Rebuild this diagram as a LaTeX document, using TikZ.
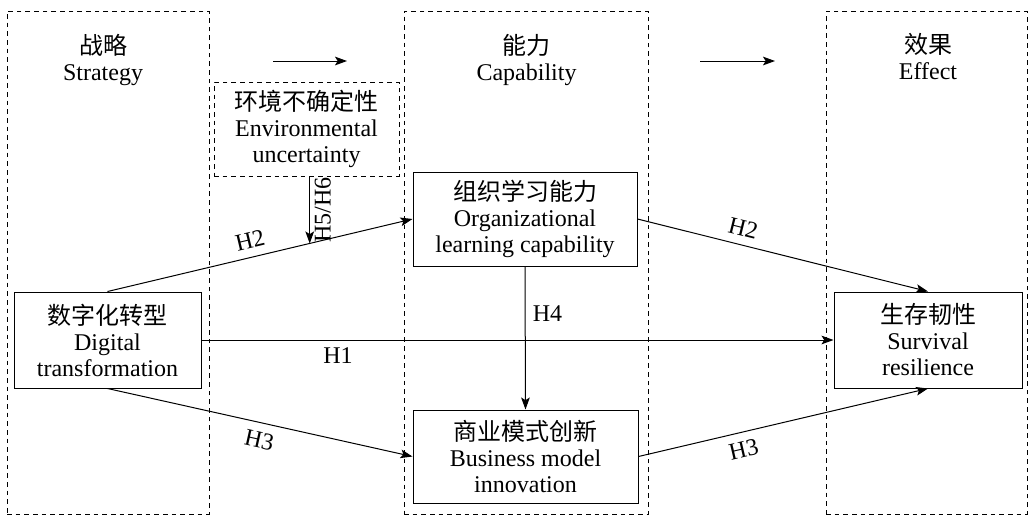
\documentclass[tikz,border=0pt]{standalone}
\usepackage{fontspec}
\setmainfont{Liberation Serif}
\newfontfamily\cjk{Noto Sans CJK SC}
\usetikzlibrary{arrows.meta,calc}

\begin{document}
\begin{tikzpicture}[x=0.75pt,y=-0.75pt,line width=0.75pt,
    >={Stealth[length=9pt,width=6.5pt,inset=2pt]},
    every node/.style={font=\fontsize{18}{19.5}\selectfont,align=center},
    column/.style={draw,dash pattern=on 3.5pt off 3pt,minimum height=377.25pt,inner sep=0pt},
    box/.style={draw,inner sep=0pt}]
  \useasboundingbox (0,0) rectangle (1032,519);
  % three stages
  \node[column,minimum width=151.5pt]  (C1) at (108,262.5)   {};
  \node[column,minimum width=183pt]    (C2) at (526,262.5)   {};
  \node[column,minimum width=150.75pt] (C3) at (926.5,262.5) {};
  \node (T1) at (103,60)   {{\cjk 战略}\\Strategy};
  \node (T2) at (526.5,60) {{\cjk 能力}\\Capability};
  \node (T3) at (928,60)   {{\cjk 效果}\\Effect\strut};
  \coordinate (a1) at (273,61);
  \coordinate (b1) at (347,61);
  \coordinate (a2) at (700,61);
  \coordinate (b2) at (775,61);
  \draw[->] (a1) -- (b1);
  \draw[->] (a2) -- (b2);
  % variables
  \node[box,dash pattern=on 3.5pt off 3pt,minimum width=138.75pt,minimum height=70.5pt] (E) at (306.5,129)
    {{\cjk 环境不确定性}\\Environmental\\uncertainty};
  \node[box,minimum width=168pt,minimum height=70.5pt] (O) at (525,219)
    {{\cjk 组织学习能力}\\Organizational\\learning capability};
  \node[box,minimum width=140.25pt,minimum height=72pt] (D) at (107.5,340)
    {{\cjk 数字化转型}\\Digital\\transformation};
  \node[box,minimum width=168.75pt,minimum height=69.75pt] (B) at (525.5,456.5)
    {{\cjk 商业模式创新}\\Business model\\innovation};
  \node[box,minimum width=141pt,minimum height=72pt] (S) at (928,340)
    {{\cjk 生存韧性}\\Survival\\resilience};
  % hypotheses
  \draw[->] (D.north) -- (O.west) node[pos=0.48,above=3pt,sloped] {H2};
  \draw[->] (O.east) -- (S.north) node[pos=0.35,above=3pt,sloped] {H2};
  \draw[->] (D.east) -- (S.west) node[pos=0.216,below=2pt] {H1};
  \draw[->] (D.south) -- (B.west) node[pos=0.51,below=3pt,sloped] {H3};
  \draw[->] (B.east) -- (S.south) node[pos=0.35,below=3pt,sloped] {H3};
  \draw[->] (O.south) -- (B.north) node[pos=0.33,right=2pt] {H4};
  \coordinate (m) at ($(D.north)!0.663!(O.west)$);
  \draw[->] (E.south -| m) -- (m) node[midway,anchor=north,rotate=90] {H5/H6};
\end{tikzpicture}
\end{document}
